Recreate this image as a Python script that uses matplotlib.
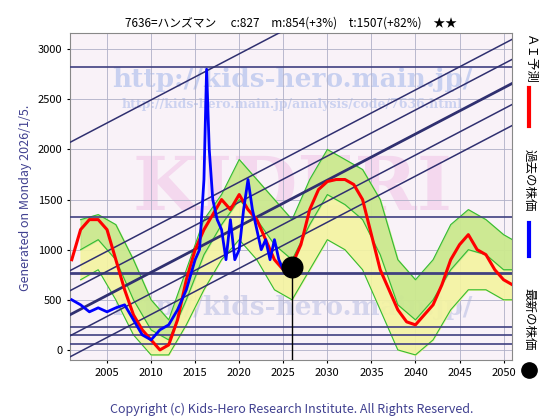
import matplotlib
matplotlib.use("Agg")
import matplotlib.pyplot as plt
import numpy as np

plt.rcParams['font.family'] = ['Noto Sans CJK JP', 'DejaVu Sans']

title = "7636=ハンズマン　 c:827　m:854(+3%)　t:1507(+82%)　★★"
red_x = list(range(2001, 2052))
red_y = [900,1200,1300,1300,1200,900,600,350,200,100,0,50,300,700,1000,1200,1350,1500,1400,1550,
         1400,1300,1100,900,800,850,1050,1400,1600,1680,1700,1700,1650,1500,1150,800,600,400,280,250,
         350,450,650,900,1050,1150,1000,950,800,700,650]
blue_x = [2001,2002,2003,2004,2005,2006,2007,2008,2009,2010,2011,2012,2013,2014,2015,2015.5,2016,2016.3,
          2016.6,2017,2017.5,2018,2018.5,2019,2019.5,2020,2020.5,2021,2021.5,2022,2022.5,2023,2023.5,2024,2024.5,2025,2025.8]
blue_y = [500,450,380,420,380,420,450,300,150,100,200,250,400,600,900,1000,1700,2800,2000,1500,1300,1200,900,
          1300,900,1000,1400,1700,1400,1200,1000,1100,900,1100,900,800,827]
band_x = [2002,2004,2006,2008,2010,2012,2014,2016,2018,2020,2022,2024,2026,2028,2030,2032,2034,2036,2038,2040,2042,2044,2046,2048,2050,2051]
band_hi = [1300,1350,1250,900,500,300,800,1300,1550,1900,1700,1500,1300,1700,2000,1900,1800,1500,900,700,900,1250,1400,1300,1150,1100]
band_lo = [700,800,500,150,-50,-50,250,600,900,1100,900,600,500,800,1100,1000,800,400,0,-50,100,400,600,600,500,500]
green_mid = [1000,1100,900,500,200,100,500,950,1250,1500,1300,1050,900,1250,1550,1450,1300,950,450,300,500,800,1000,950,800,800]
hlines = [2820, 1330, 770, 230, 150, 60]
diag_at_2001 = [2080, 800, 600, 360, 150, -60]
diag_slope = 46
latest_x, latest_y = 2026, 827

fig = plt.figure(figsize=(5.6, 4.2), dpi=100)
ax = fig.add_axes([0.125, 0.143, 0.790, 0.778])
ax.set_facecolor('#f9f2f8')
ax.set_xlim(2000.8, 2051)
ax.set_ylim(-100, 3160)

ax.text(2026, 2700, "http://kids-hero.main.jp/", ha='center', va='center', fontsize=19,
        color='#c8d0f0', family='DejaVu Serif', fontweight='bold', zorder=1)
ax.text(2026, 2450, "http://kids-hero.main.jp/analysis/code/7636.html", ha='center', va='center',
        fontsize=9, color='#ccd2f0', family='DejaVu Serif', fontweight='bold', zorder=1)
ax.text(2026, 1600, "KIDERI", ha='center', va='center', fontsize=54, color='#f4d8ee',
        family='DejaVu Serif', fontweight='bold', zorder=1)
ax.text(2026, 420, "http://kids-hero.main.jp/", ha='center', va='center', fontsize=19,
        color='#d4d4ec', family='DejaVu Serif', fontweight='bold', zorder=1)

ax.fill_between(band_x, band_lo, band_hi, color='#f4f4a0', alpha=0.9, zorder=2)
ax.fill_between(band_x, green_mid, band_hi, color='#a8e080', alpha=0.5, zorder=2)
for arr in (band_hi, band_lo, green_mid):
    ax.plot(band_x, arr, color='#33bb33', lw=0.8, zorder=3)

for h in hlines:
    ax.axhline(h, color='#404080', lw=2 if h == 770 else 1.2, zorder=4)
xs = np.array([2000.8, 2051])
for b in diag_at_2001:
    ax.plot(xs, b + diag_slope * (xs - 2001), color='#303070', lw=2 if b == 360 else 1.1, zorder=4)

ax.plot(red_x, red_y, color='red', lw=2.2, zorder=5)
ax.plot(blue_x, blue_y, color='blue', lw=2.0, zorder=6)
ax.plot([latest_x, latest_x], [-100, latest_y], color='black', lw=1, zorder=7)
ax.scatter([latest_x], [latest_y], s=220, color='black', zorder=8)

ax.set_xticks([2005, 2010, 2015, 2020, 2025, 2030, 2035, 2040, 2045, 2050])
ax.set_yticks([0, 500, 1000, 1500, 2000, 2500, 3000])
ax.grid(True, color='#b0b0c8', lw=0.6)
ax.tick_params(labelsize=8, length=2)
for s in ax.spines.values():
    s.set_color('#888888')

ax.set_title(title, fontsize=8.5, pad=5)
fig.text(0.045, 0.53, "Generated on Monday 2026/1/5.", rotation=90, ha='center', va='center',
         fontsize=9, color='#404090')
fig.text(0.52, 0.025, "Copyright (c) Kids-Hero Research Institute. All Rights Reserved.",
         ha='center', va='center', fontsize=9, color='#404090')

fig.text(0.945, 0.86, "ＡＩ予測", rotation=270, ha='center', va='center', fontsize=9)
fig.add_artist(plt.Line2D([0.945, 0.945], [0.70, 0.79], color='red', lw=3, transform=fig.transFigure))
fig.text(0.945, 0.57, "過去の株価", rotation=270, ha='center', va='center', fontsize=9)
fig.add_artist(plt.Line2D([0.945, 0.945], [0.39, 0.47], color='blue', lw=3, transform=fig.transFigure))
fig.text(0.945, 0.24, "最新の株価", rotation=270, ha='center', va='center', fontsize=9)
fig.add_artist(plt.Line2D([0.945], [0.12], marker='o', markersize=11, color='black', transform=fig.transFigure))

fig.savefig("out.png", dpi=100)
